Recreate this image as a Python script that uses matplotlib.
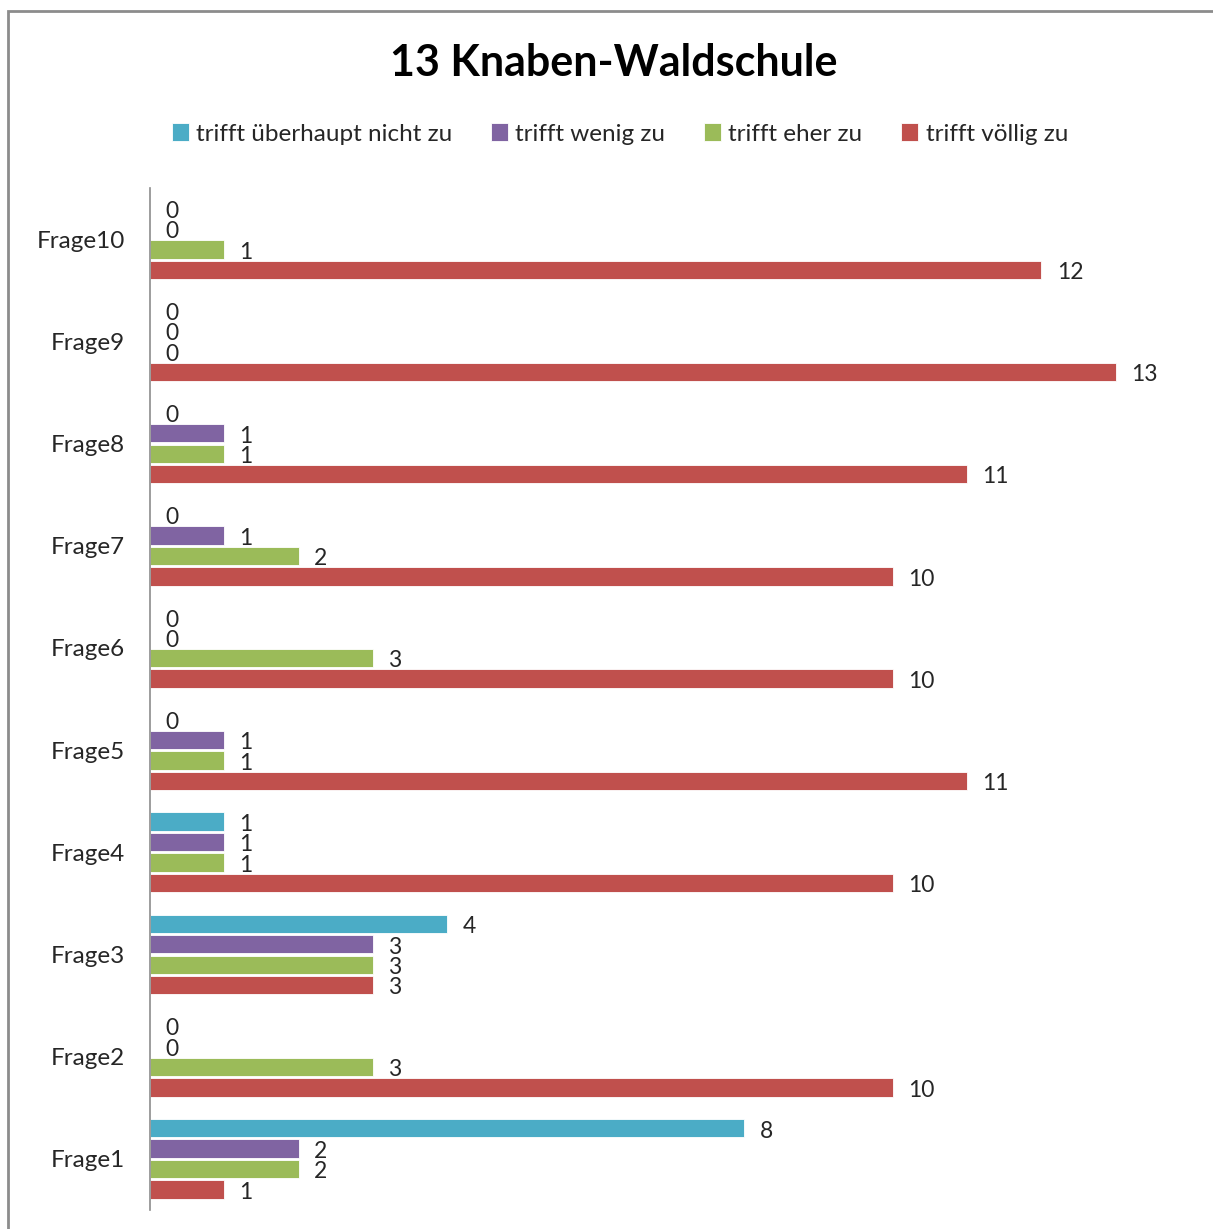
import numpy as np
import matplotlib.pyplot as plt
from matplotlib.patches import Rectangle

"grouped horizontal bars for the Waldschule survey"

fragen = [f"Frage{i}" for i in range(1, 11)]
serien = ["trifft überhaupt nicht zu", "trifft wenig zu", "trifft eher zu", "trifft völlig zu"]
ueberhaupt_nicht = [8, 0, 4, 1, 0, 0, 0, 0, 0, 0]
wenig = [2, 0, 3, 1, 1, 0, 1, 1, 0, 0]
eher = [2, 3, 3, 1, 1, 3, 2, 1, 0, 1]
voellig = [1, 10, 3, 10, 11, 10, 10, 11, 13, 12]
farben = ["#4BACC6", "#8064A2", "#9BBB59", "#C0504D"]

plt.rcParams["font.family"] = ["Lato", "DejaVu Sans"]
txt_col = "#262626"

fig = plt.figure(figsize=(12.13, 12.29), dpi=100)
ax = fig.add_axes([150/1213, 19/1229, (1190-150)/1213, (1210-188)/1229])

# outer chart frame (left + top visible)
fig.patches.append(Rectangle((8/1213, -0.05), 1.2, (1229-11)/1229 + 0.05,
                             transform=fig.transFigure, fill=False,
                             edgecolor="#8c8c8c", linewidth=2))

y = np.arange(len(fragen))
offsets = [0.3, 0.1, -0.1, -0.3]
werte = [ueberhaupt_nicht, wenig, eher, voellig]
for vals, off, col, name in zip(werte, offsets, farben, serien):
    bars = ax.barh(y + off, vals, height=0.18, color=col, edgecolor="white",
                   linewidth=0.6, label=name)
    for b, v in zip(bars, vals):
        ax.annotate(str(v), (b.get_width(), b.get_y() + b.get_height()/2),
                    xytext=(11, -2), textcoords="offset points",
                    ha="left", va="center", fontsize=16.5, color=txt_col)

ax.set_xlim(0, 14)
ax.set_ylim(-0.5, 9.5)
ax.set_yticks(y)
ax.set_yticklabels(fragen, fontsize=17.5, color=txt_col)
ax.tick_params(axis="y", length=0, pad=18)
ax.set_xticks([])
for s in ["top", "right", "bottom"]:
    ax.spines[s].set_visible(False)
ax.spines["left"].set_color("#8c8c8c")
ax.spines["left"].set_linewidth(1.2)

fig.text(0.506, 1 - 63/1229, "13 Knaben-Waldschule", ha="center", va="center",
         fontsize=31, fontweight="bold", color="black")

fig.legend(loc="center", bbox_to_anchor=(0.511, 1 - 134/1229), ncol=4,
           frameon=False, fontsize=17.5, handlelength=0.7, handleheight=0.7,
           handletextpad=0.3, columnspacing=1.6, labelcolor=txt_col)

plt.savefig("out.png", dpi=100)
plt.close()
